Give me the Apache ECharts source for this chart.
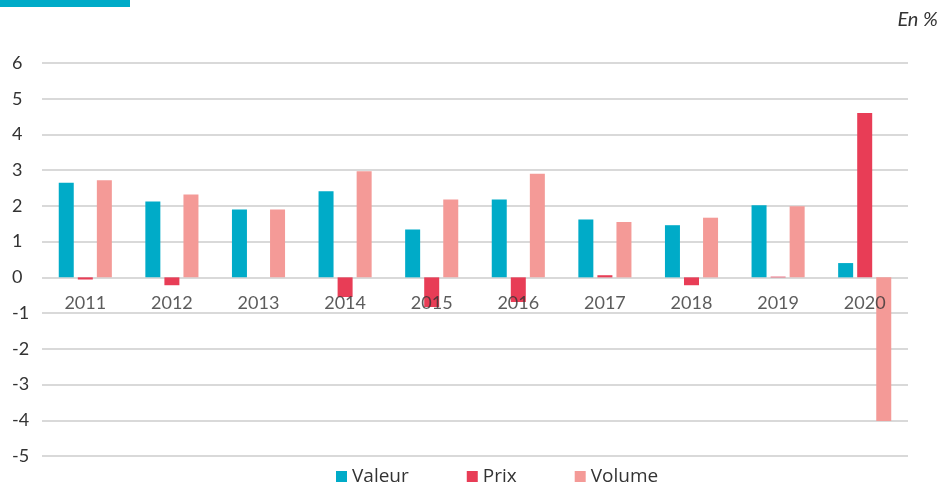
<!DOCTYPE html>
<html>
<head>
<meta charset="utf-8">
<script src="https://cdn.jsdelivr.net/npm/echarts@6/dist/echarts.min.js"></script>
<style>
  html, body { margin: 0; padding: 0; background: #fff; }
  #chart { width: 946px; height: 488px; }
</style>
</head>
<body>
<div id="chart"></div>
<script>
// données
var years = ['2011', '2012', '2013', '2014', '2015', '2016', '2017', '2018', '2019', '2020'];
var valeur = [2.65, 2.12, 1.9, 2.41, 1.34, 2.18, 1.62, 1.46, 2.02, 0.4];
var prix = [-0.06, -0.22, 0, -0.55, -0.83, -0.69, 0.06, -0.22, 0.02, 4.6];
var volume = [2.72, 2.32, 1.9, 2.97, 2.18, 2.9, 1.55, 1.67, 1.99, -4.02];

var fontFam = 'Lato, "Noto Sans", sans-serif';

// étiquettes des années posées sur la ligne du zéro
var yearLabelPos = years.map(function () { return 0; });

var chart = echarts.init(document.getElementById('chart'));
var option = {
	animation: false,
	textStyle: { fontFamily: fontFam },
	graphic: [
		{ type: 'rect', left: 0, top: 0, shape: { width: 130, height: 7 }, style: { fill: '#00abc8' } },
		{ type: 'text', right: 8, top: 10, style: { text: 'En %', fontSize: 20, fontStyle: 'italic', fontFamily: fontFam, fill: '#333' } }
	],
	grid: {
		left: 42,
		right: 38,
		top: 63,
		bottom: 32
	},
	legend: {
		bottom: -3,
		left: 331,
		itemWidth: 11,
		itemHeight: 11,
		itemGap: 58,
		icon: 'rect',
		textStyle: { fontSize: 19, color: '#333', fontFamily: '"Open Sans", sans-serif' },
		data: ['Valeur', 'Prix', 'Volume']
	},
	xAxis: {
		type: 'category',
		data: years,
		axisTick: { show: false },
		axisLine: { show: false },
		axisLabel: { show: false }
	},
	yAxis: {
		type: 'value',
		min: -5,
		max: 6,
		interval: 1,
		axisTick: { show: false },
		axisLine: { show: false },
		axisLabel: {
			align: 'left',
			margin: 30,
			fontSize: 18,
			color: '#333'
		},
		splitLine: {
			lineStyle: { color: '#d9d9d9', width: 2, type: 'solid' }
		}
	},
	series: [
		{
			name: 'Valeur',
			type: 'bar',
			data: valeur,
			barWidth: 15,
			barGap: '27%',
			itemStyle: { color: '#00abc8' }
		},
		{
			name: 'Prix',
			type: 'bar',
			data: prix,
			barWidth: 15,
			barGap: '27%',
			itemStyle: { color: '#e83d56' }
		},
		{
			name: 'Volume',
			type: 'bar',
			data: volume,
			barWidth: 15,
			barGap: '27%',
			itemStyle: { color: '#f49a97' }
		},
		{
			name: 'years',
			type: 'scatter',
			data: yearLabelPos,
			symbolSize: 0,
			silent: true,
			z: 10,
			label: {
				show: true,
				position: 'bottom',
				distance: 17,
				formatter: '{b}',
				fontSize: 18,
				color: '#333',
				fontFamily: fontFam
			}
		}
	]
};
chart.setOption(option);
</script>
</body>
</html>
